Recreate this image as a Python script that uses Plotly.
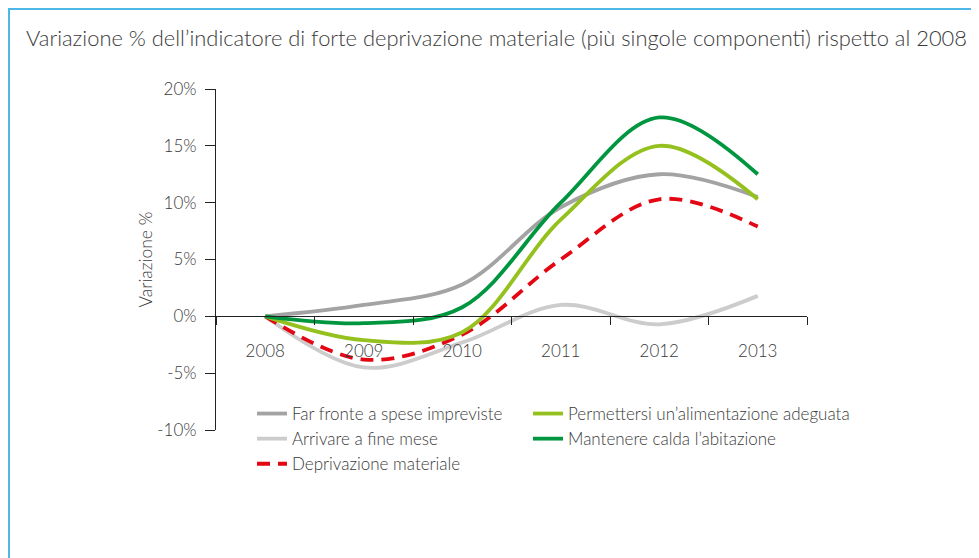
import plotly.graph_objects as go

years = ["2008", "2009", "2010", "2011", "2012", "2013"]
far_fronte = [0.0, 1.0, 2.8, 9.6, 12.5, 10.5]
arrivare = [0.0, -4.5, -2.3, 1.0, -0.7, 1.8]
permettersi = [0.0, -2.1, -1.4, 8.5, 15.0, 10.3]
mantenere = [0.0, -0.6, 0.8, 10.0, 17.5, 12.5]
deprivazione = [0.0, -3.8, -1.6, 5.0, 10.3, 7.9]
y_ticks = [-10, -5, 0, 5, 10, 15, 20]
y_tick_text = ["-10%", "-5%", "0%", "5%", "10%", "15%", "20%"]

FONT = "Lato"
TXT = "#3a3a3a"
OFF = 8  # page body margin

fig = go.Figure()
series = [
    ("Far fronte a spese impreviste", far_fronte, "#a3a3a3", "solid", "legend"),
    ("Arrivare a fine mese", arrivare, "#cccccc", "solid", "legend"),
    ("Deprivazione materiale", deprivazione, "#e30613", "13px,8px", "legend"),
    ("Permettersi un\u2019alimentazione adeguata", permettersi, "#95c11f", "solid", "legend2"),
    ("Mantenere calda l\u2019abitazione", mantenere, "#009640", "solid", "legend2"),
]
for name, vals, col, dash, lg in series:
    fig.add_trace(go.Scatter(
        x=years, y=vals, mode="lines", name=name,
        line=dict(color=col, width=3.8, dash=dash, shape="spline", smoothing=1.0),
        legend=lg,
    ))

W, H = 979 - OFF, 558 - OFF
L = 216 - OFF
T = 89 - OFF
R = W - (807 - OFF)
B = H - (430 - OFF)
pw = W - L - R
ph = H - T - B

def px_x(x):
    return (x - OFF - L) / pw

def px_y(y):
    return (H - B - (y - OFF)) / ph

fnt = dict(family=FONT, size=17, color=TXT, weight=300)

fig.update_layout(
    width=W, height=H,
    margin=dict(l=L, r=R, t=T, b=B),
    paper_bgcolor="white", plot_bgcolor="white",
    font=fnt,
    showlegend=True,
    title=dict(
        text="Variazione % dell\u2019indicatore di forte deprivazione materiale (pi\u00f9 singole componenti) rispetto al 2008",
        x=(26 - OFF) / W, xanchor="left", y=1 - (38 - OFF) / H, yanchor="middle",
        font=dict(family=FONT, size=21.9, color=TXT, weight=300),
    ),
    xaxis=dict(
        type="category", range=[-0.5, 5.5],
        anchor="free", position=1 / 3,
        showline=True, linecolor="#222", linewidth=1,
        ticks="outside", ticklen=8, tickcolor="#222", tickson="boundaries",
        showgrid=False, zeroline=False,
        tickfont=fnt,
        ticklabelstandoff=19,
    ),
    yaxis=dict(
        range=[-10, 20], tickvals=y_ticks, ticktext=y_tick_text,
        showline=True, linecolor="#222", linewidth=1,
        ticks="outside", ticklen=10, tickcolor="#222",
        showgrid=False, zeroline=False,
        tickfont=fnt,
        ticklabelstandoff=5,
        title=dict(text="Variazione %", font=dict(family=FONT, size=17.5, color=TXT, weight=300), standoff=0),
    ),
    legend=dict(
        x=px_x(252), xanchor="left", y=px_y(396), yanchor="top",
        orientation="v", bgcolor="rgba(0,0,0,0)", itemwidth=30,
        font=fnt, tracegroupgap=0,
    ),
    legend2=dict(
        x=px_x(528), xanchor="left", y=px_y(396), yanchor="top",
        orientation="v", bgcolor="rgba(0,0,0,0)", itemwidth=30,
        font=fnt, tracegroupgap=0,
    ),
    shapes=[dict(
        type="rect", xref="paper", yref="paper",
        x0=px_x(9), x1=px_x(976), y0=px_y(600), y1=px_y(9),
        line=dict(color="#4db8e8", width=2), fillcolor="rgba(0,0,0,0)", layer="below",
    )],
)

fig.write_html("out.html")
